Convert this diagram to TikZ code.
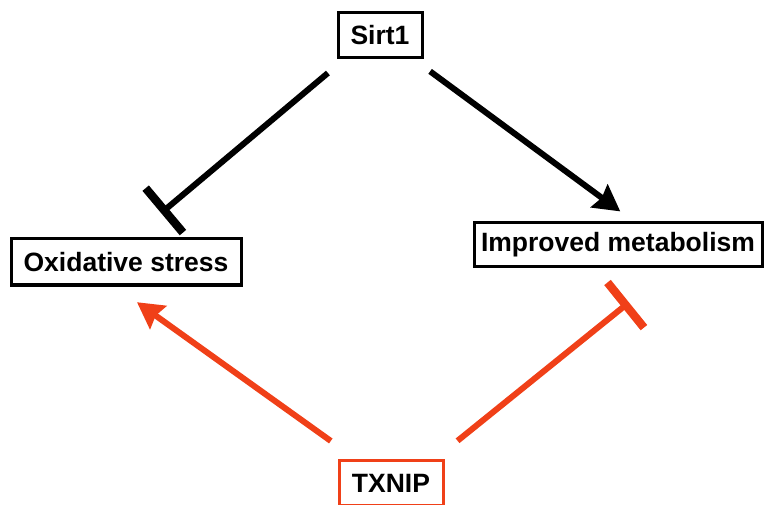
\documentclass[tikz,border=0pt]{standalone}
\usepackage{fontspec}
\setmainfont{Liberation Sans}
\usetikzlibrary{arrows.meta}
\definecolor{txred}{RGB}{240,64,24}

\begin{document}
\begin{tikzpicture}
  [
    x = 1pt, y = -1pt,
    box/.style = {draw, line width = 3pt, inner sep = 0pt,
        font = \fontsize{26.5}{30}\selectfont\bfseries},
    link/.style = {line width = 6pt},
    promote/.style = {link, -{Stealth[length = 26pt, width = 28pt, inset = 3pt]}},
    inhibit/.style = {link, -{Bar[width = 58pt, line width = 0pt 1.4]}},
  ]

  \useasboundingbox (0,0) rectangle (766,505);

  \node[box, minimum width = 84pt, minimum height = 45pt] (sirt) at (380,35.5) {Sirt1};
  \node[box, minimum width = 230pt, minimum height = 46pt] (oxid) at (126,262) {Oxidative stress};
  \node[box, minimum width = 288pt, minimum height = 44pt] (metab) at (618,245) {Improved metabolism};
  \node[box, draw = txred, minimum width = 104pt, minimum height = 45pt] (txnip) at (391,483) {TXNIP};

  \draw[inhibit, shorten < = 21pt, shorten > = 38pt]
    ([xshift = -36pt]sirt.south) -- ([xshift = 6pt]oxid.north);
  \draw[promote, shorten < = 20pt, shorten > = 17pt]
    ([xshift = 34pt]sirt.south) -- ([xshift = 16pt]metab.north);

  \draw[promote, txred, shorten < = 31pt, shorten > = 27pt]
    ([xshift = -35pt]txnip.north) -- ([xshift = -11pt]oxid.south);
  \draw[inhibit, txred, shorten < = 29pt, shorten > = 54pt]
    ([xshift = 44pt]txnip.north) -- ([xshift = 53pt]metab.south);

\end{tikzpicture}
\end{document}
